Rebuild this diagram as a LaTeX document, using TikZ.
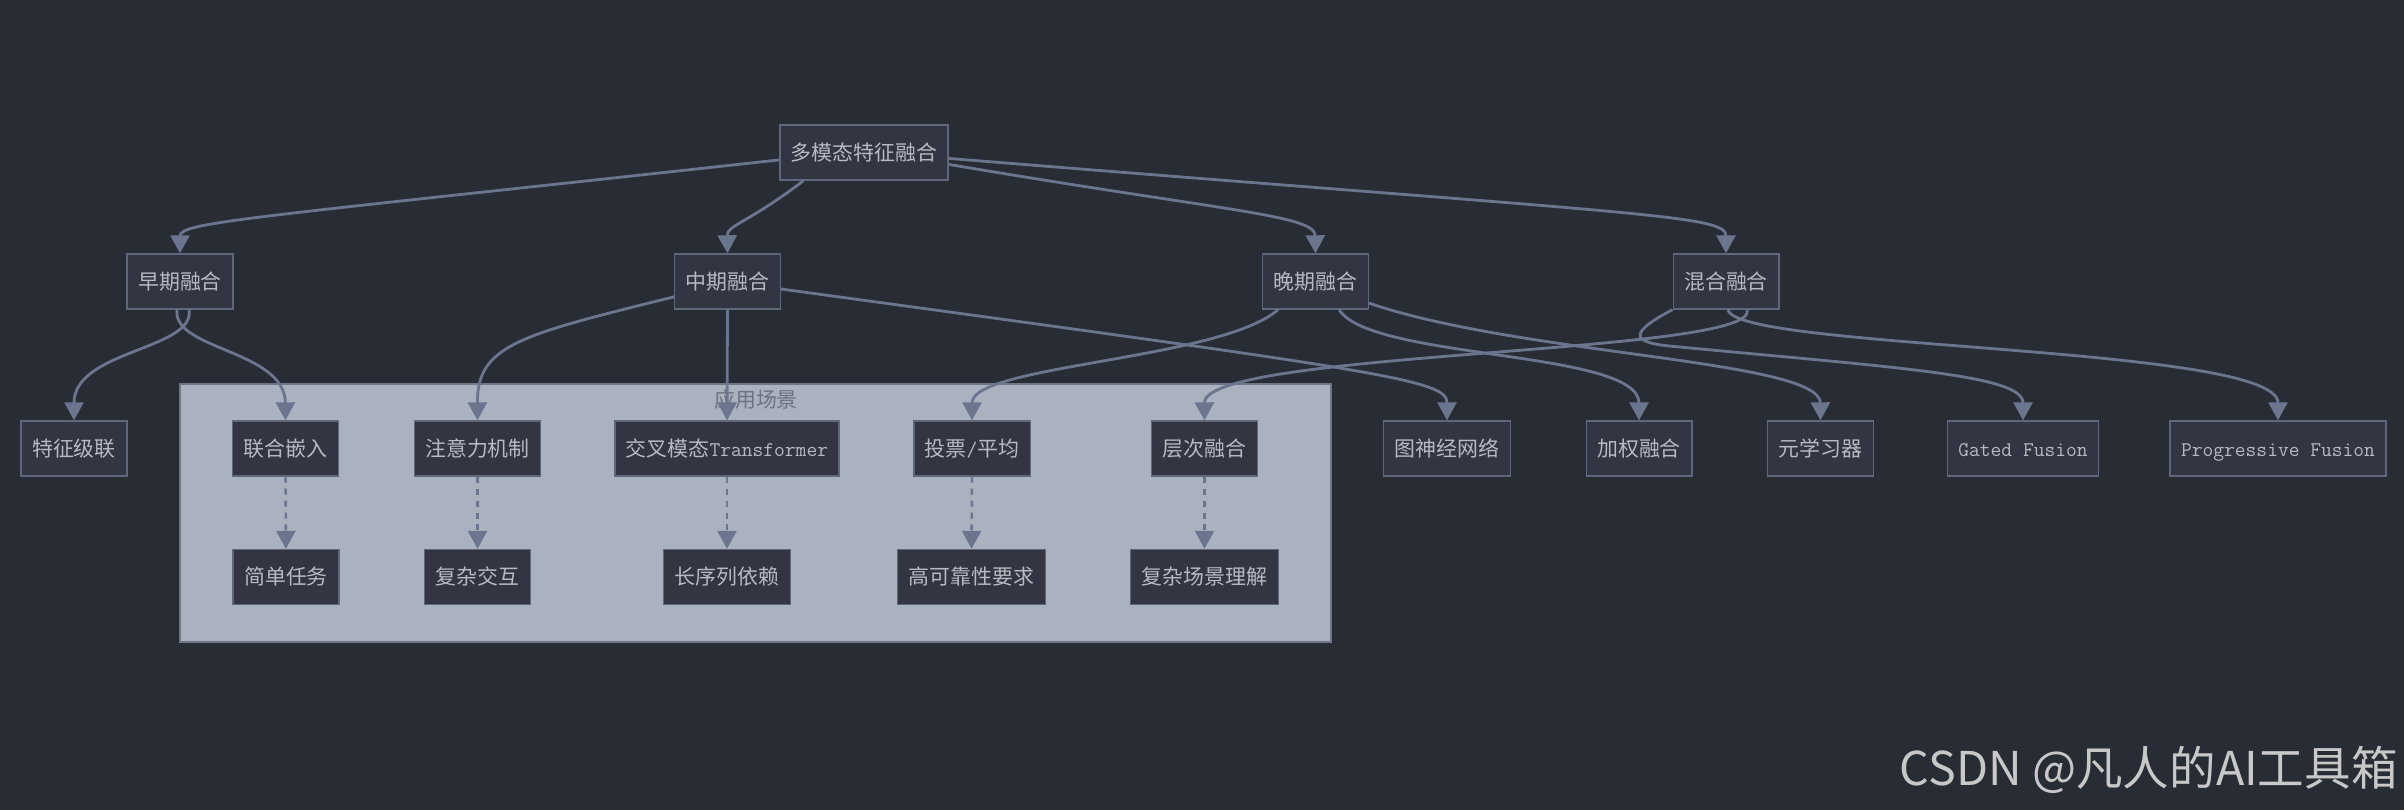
\documentclass[tikz,border=0pt]{standalone}
\usepackage{fontspec}
\setmainfont{Noto Sans CJK SC}
\usetikzlibrary{arrows.meta}
\definecolor{bgdark}{RGB}{40,44,53}
\definecolor{nodefill}{RGB}{51,54,66}
\definecolor{nodeline}{RGB}{95,103,122}
\definecolor{nodetext}{RGB}{182,186,194}
\definecolor{edgecol}{RGB}{107,117,142}
\definecolor{clusterfill}{RGB}{170,177,191}
\definecolor{clusterline}{RGB}{110,118,135}
\definecolor{labeltext}{RGB}{108,114,126}
\definecolor{credittext}{RGB}{200,200,200}

\begin{document}
\begin{tikzpicture}[x=0.02cm,y=-0.02cm,
    box/.style={draw=nodeline,fill=nodefill,line width=0.8pt,minimum height=1.1cm,
      inner xsep=0.22cm,text height=0.37cm,text depth=0.05cm,text=nodetext,
      font=\fontsize{11.9pt}{14pt}\selectfont},
    link/.style={draw=edgecol,line width=1.6pt,-{Triangle[width=0.38cm,length=0.36cm]}},
    hint/.style={link,line width=1.4pt,dash pattern=on 3.4pt off 3.4pt}]
        \fill[bgdark] (0,0) rectangle (2404,810);
        \useasboundingbox (0,0) rectangle (2404,810);
        % subgraph
        \draw[clusterline,fill=clusterfill,line width=0.8pt] (180,384) rectangle (1331,642);
        \node[text=labeltext,inner sep=0,font=\fontsize{11.9pt}{14pt}\selectfont]
              (scenelabel) at (756,400) {应用场景};
        % nodes
        \node[box] (root) at (864,152.5) {多模态特征融合};
        \node[box] (early) at (180,281.5) {早期融合};
        \node[box] (mid) at (727.5,281.5) {中期融合};
        \node[box] (late) at (1315.5,281.5) {晚期融合};
        \node[box] (hybrid) at (1726,281.5) {混合融合};
        \node[box] (concat) at (74,448.5) {特征级联};
        \node[box] (joint) at (285.5,448.5) {联合嵌入};
        \node[box] (attn) at (477.5,448.5) {注意力机制};
        \node[box,minimum width=4.44cm] (xformer) at (727,448.5) {交叉模态{\ttfamily Transformer}};
        \node[box] (vote) at (972,448.5) {投票{\ttfamily /}平均};
        \node[box] (hier) at (1204.5,448.5) {层次融合};
        \node[box] (gnn) at (1447,448.5) {图神经网络};
        \node[box] (weighted) at (1639,448.5) {加权融合};
        \node[box] (meta) at (1820.5,448.5) {元学习器};
        \node[box,minimum width=3cm] (gated) at (2023,448.5) {\ttfamily Gated Fusion};
        \node[box,minimum width=4.2cm] (progressive) at (2278,448.5) {\ttfamily Progressive Fusion};
        \node[box] (simple) at (286,577) {简单任务};
        \node[box] (complexint) at (477.5,577) {复杂交互};
        \node[box] (longseq) at (727,577) {长序列依赖};
        \node[box] (reliable) at (971.5,577) {高可靠性要求};
        \node[box] (scene) at (1204.5,577) {复杂场景理解};
        % edges
        \draw[link] (root.185) .. controls (250,218) and (180,222) .. (early.north);
        \draw[link] (root.205) .. controls (745,225) and (727,225) .. (mid.north);
        \draw[link] (root.-8) .. controls (1230,212) and (1315,215) .. (late.north);
        \draw[link] (root.-4) .. controls (1650,215) and (1726,215) .. (hybrid.north);
        \draw[link] (early.-72) .. controls (195,350) and (74,350) .. (concat.north);
        \draw[link] (early.-96) .. controls (172,350) and (285,350) .. (joint.north);
        \draw[link] (mid.196) .. controls (520,335) and (477,345) .. (attn.north);
        \draw[link] (mid.south) -- (xformer.north);
        \draw[link] (mid.-8) .. controls (1390,372) and (1447,380) .. (gnn.north);
        \draw[link] (late.217) .. controls (1220,360) and (972,365) .. (vote.north);
        \draw[link] (late.-50) .. controls (1370,360) and (1639,350) .. (weighted.north);
        \draw[link] (late.-22) .. controls (1520,355) and (1820,360) .. (meta.north);
        \draw[link] (hybrid.-53) .. controls (1760,355) and (1204,350) .. (hier.north);
        \draw[link] (hybrid.south west) .. controls (1630,332) and (1630,342) .. (1669,346)
              .. controls (1900,368) and (2023,375) .. (gated.north);
        \draw[link] (hybrid.-86) .. controls (1735,350) and (2278,345) .. (progressive.north);
        \draw[hint] (joint.south) -- (simple.north);
        \draw[hint] (attn.south) -- (complexint.north);
        \draw[hint] (xformer.south) -- (longseq.north);
        \draw[hint] (vote.south) -- (reliable.north);
        \draw[hint] (hier.south) -- (scene.north);
        % watermark
        \node[anchor=east,inner sep=0,text=credittext,font=\fontsize{26.5pt}{30pt}\selectfont]
              (credit) at (2398,770) {CSDN @凡人的AI工具箱};
      \end{tikzpicture}
\end{document}
